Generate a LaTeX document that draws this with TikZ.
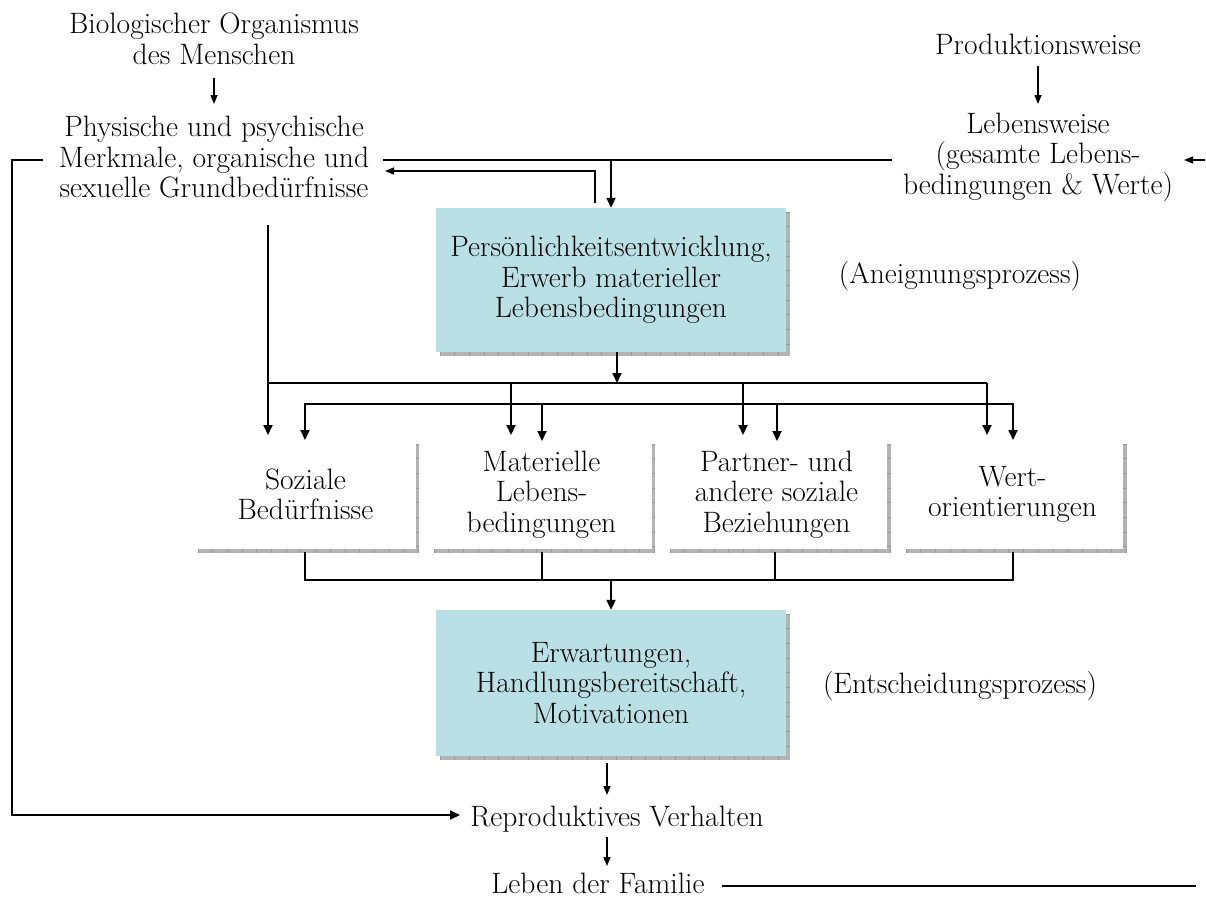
\documentclass[tikz,border=0pt]{standalone}
\usetikzlibrary{arrows.meta}
\definecolor{boxblue}{RGB}{185,224,228}
\definecolor{shadowgray}{RGB}{180,180,180}
\definecolor{tickgray}{RGB}{150,150,150}
\newcommand\ShadowRect[4]{%
  \fill[shadowgray] (#1+3.5,#2+3.5) rectangle (#3+3.5,#4+3.5);
  \draw[tickgray, line width=3.5pt, dash pattern=on 0.7pt off 14pt] (#1+3.5,#4+1.75) -- (#3+3.5,#4+1.75);
  \draw[tickgray, line width=3.5pt, dash pattern=on 0.7pt off 14pt] (#3+1.75,#2+3.5) -- (#3+1.75,#4+3.5);
}
\begin{document}
\begin{tikzpicture}[x=1pt,y=-1pt,
  txt/.style={font=\fontsize{29.5}{30.5}\selectfont, align=center, inner sep=0pt},
  bluebox/.style={txt, fill=boxblue, minimum width=350pt},
  whitebox/.style={txt, fill=white, minimum width=221pt, minimum height=109pt},
  thin/.style={line width=1.5pt},
  thick/.style={line width=2pt},
  sarr/.style={thin, -{Triangle[length=9pt,width=7pt]}},
  arr/.style={thick, -{Triangle[length=10pt,width=9pt]}},
]
\useasboundingbox (0,0) rectangle (1206,900);

% ---------- top texts ----------
\node[txt] (bio)  at (214,39)  {Biologischer Organismus\\des Menschen};
\node[txt] (phys) at (214,157) {Physische und psychische\\Merkmale, organische und\\sexuelle Grundbed\"urfnisse};
\node[txt] (prod) at (1038,44) {Produktionsweise};
\node[txt] (lebw) at (1038,157) {Lebensweise\\(gesamte Lebens-\\bedingungen \& Werte)};

% ---------- blue boxes ----------
\ShadowRect{436}{208}{786}{352}
\node[bluebox, minimum height=144pt] (pers) at (611,280)
  {Pers\"onlichkeitsentwicklung,\\Erwerb materieller\\Lebensbedingungen};
\node[txt] (aneig) at (960,276) {(Aneignungsprozess)};

\ShadowRect{436}{610}{786}{756}
\node[bluebox, minimum height=146pt] (erw) at (611,683)
  {Erwartungen,\\Handlungsbereitschaft,\\Motivationen};
\node[txt] (ents) at (960,686) {(Entscheidungsprozess)};

% ---------- white boxes ----------
\ShadowRect{194}{440}{415}{549}
\node[whitebox] (b1) at (305.5,494.5) {Soziale\\Bed\"urfnisse};
\ShadowRect{430}{440}{651}{549}
\node[whitebox] (b2) at (541.5,494.5) {Materielle\\Lebens-\\bedingungen};
\ShadowRect{666}{440}{887}{549}
\node[whitebox] (b3) at (776.5,494.5) {Partner- und\\andere soziale\\Beziehungen};
\ShadowRect{902}{440}{1123}{549}
\node[whitebox] (b4) at (1012.5,494.5) {Wert-\\orientierungen};

% ---------- bottom texts ----------
\node[txt] (repr)  at (617,819) {Reproduktives Verhalten};
\node[txt] (leben) at (598,883) {Leben der Familie};

% ---------- coordinates ----------
\coordinate (lwL) at (892,160);
\coordinate (phR) at (383,160);
\coordinate (phR2) at (385,171);
\coordinate (brS) at (43,160);
\coordinate (brC1) at (12,160);
\coordinate (brC2) at (12,815);
\coordinate (reL) at (460,815);
\coordinate (lfR) at (722,886);
\coordinate (lfE) at (1196,886);
\coordinate (rtS) at (1205,160);
\coordinate (rtE) at (1184,160);

% ---------- connectors top ----------
\draw[sarr] (214,78) -- (214,104);
\draw[sarr] (1038,66) -- (1038,104);
\draw[thin] (lwL) -- (phR);
\draw[arr] (611,160) -- (pers.north);
\draw[sarr] (595,203) -- (595,171) -- (phR2);
\draw[sarr] (rtS) -- (rtE);
\draw[arr] (brS) -- (brC1) -- (brC2) -- (reL);

% ---------- distribution ----------
\draw[arr] (268,225) -- (268,435);
\draw[thick] (268,383) -- (987,383);
\draw[arr] (617,352) -- (617,383);
\draw[arr] (511,383) -- (511,435);
\draw[arr] (743,383) -- (743,435);
\draw[arr] (987,383) -- (987,435);
\draw[thick,{Triangle[length=10pt,width=9pt]}-{Triangle[length=10pt,width=9pt]}]
  (305,440) -- (305,404) -- (1013,404) -- (1013,440);
\draw[arr] (542,404) -- (542,441);
\draw[arr] (777,404) -- (777,441);

% ---------- collection ----------
\draw[thick] (305,552) -- (305,580) -- (1013,580) -- (1013,552);
\draw[thick] (542,552) -- (542,580);
\draw[thick] (775,552) -- (775,580);
\draw[arr] (611,580) -- (erw.north);

% ---------- bottom ----------
\draw[sarr] (607,763) -- (607,795);
\draw[sarr] (607,837) -- (607,866);
\draw[thin] (lfR) -- (lfE);
\end{tikzpicture}
\end{document}
